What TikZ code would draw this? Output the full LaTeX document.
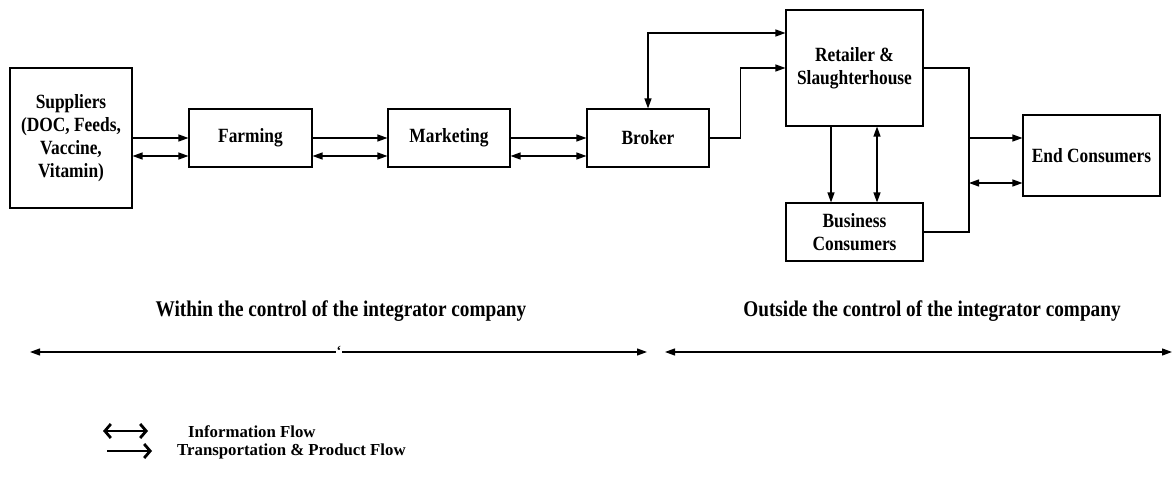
\documentclass[tikz,border=0pt]{standalone}
\usepackage{fontspec}
\setmainfont{Liberation Serif}
\newfontfamily\narrowserif[FakeStretch=0.86]{Liberation Serif}
\usetikzlibrary{arrows.meta}
\begin{document}
\begin{tikzpicture}[x=1pt,y=-1pt,
  tip/.tip={Triangle[length=10pt,width=7pt]},
  flow/.style={line width=1.2pt,-tip},
  info/.style={line width=1.2pt,tip-tip},
  wire/.style={line width=1.2pt},
  box/.style={draw,line width=1.1pt,align=center,inner sep=2pt,
    font=\narrowserif\bfseries\fontsize{20.2}{23}\selectfont},
  caption/.style={font=\narrowserif\bfseries\fontsize{22.4}{24}\selectfont},
  legendtext/.style={font=\bfseries\fontsize{16.8}{17}\selectfont,anchor=west,inner sep=0pt},
  barb/.tip={Straight Barb[length=6pt,width=14pt]},
  legendarrow/.style={line width=2.8pt}
]
\useasboundingbox (0,0) rectangle (1173,478);

% supply-chain actors
\node[box,minimum width=122pt,minimum height=140pt] (sup) at (71,138)
  {Suppliers\\(DOC, Feeds,\\Vaccine,\\Vitamin)};
\node[box,minimum width=123pt,minimum height=58pt] (farm) at (250.5,138) {Farming};
\node[box,minimum width=122pt,minimum height=58pt] (mkt) at (449,138) {Marketing};
\node[box,minimum width=122pt,minimum height=58pt] (brk) at (648,138) {Broker};
\node[box,minimum width=137pt,minimum height=116pt] (ret) at (854.5,68)
  {Retailer \&\\Slaughterhouse};
\node[box,minimum width=137pt,minimum height=58pt] (bus) at (854.5,232)
  {Business\\Consumers};
\node[box,minimum width=137pt,minimum height=81pt] (end) at (1091.5,155.5) {End Consumers};

% product and information links along the chain
\draw[flow] (sup.east) -- (farm.west);
\draw[info] ([yshift=-18pt]sup.east) -- ([yshift=-18pt]farm.west);
\draw[flow] (farm.east) -- (mkt.west);
\draw[info] ([yshift=-18pt]farm.east) -- ([yshift=-18pt]mkt.west);
\draw[flow] (mkt.east) -- (brk.west);
\draw[info] ([yshift=-18pt]mkt.east) -- ([yshift=-18pt]brk.west);

% broker to retailer
\draw[flow] (brk.east) -- ++(31,0) |- (ret.west);
\draw[info] (brk.north) |- ([yshift=35pt]ret.west);

% retailer and business consumers
\draw[flow] ([xshift=-23.5pt]ret.south) -- ([xshift=-23.5pt]bus.north);
\draw[info] ([xshift=22.5pt]ret.south) -- ([xshift=22.5pt]bus.north);

% merge towards end consumers
\coordinate (mergeTop) at (969,68);
\coordinate (mergeBot) at (969,232);
\draw[wire] (ret.east) -- (mergeTop) -- (mergeBot) -- (bus.east);
\coordinate (outA) at (969,138);
\coordinate (outB) at (969,183);
\draw[flow] (outA) -- (end.west |- outA);
\draw[info] (outB) -- (end.west |- outB);

% scope of control
\node[caption] (within) at (341,311) {Within the control of the integrator company};
\node[caption] (outside) at (932,311) {Outside the control of the integrator company};
\coordinate (wL) at (30,352);
\coordinate (wR) at (647,352);
\coordinate (oL) at (665,352);
\coordinate (oR) at (1172,352);
\draw[info] (wL) -- (wR);
\draw[info] (oL) -- (oR);
\node[fill=white,inner sep=0.6pt,font=\bfseries\fontsize{14}{14}\selectfont] (tick) at (339,351) {\symbol{96}};

% legend
\coordinate (l1a) at (103,431);
\coordinate (l1b) at (148,431);
\coordinate (l2a) at (107,451);
\coordinate (l2b) at (152,451);
\draw[legendarrow,barb-barb] (l1a) -- (l1b);
\draw[legendarrow,-barb] (l2a) -- (l2b);
\node[legendtext] (lg1) at (188,432) {Information Flow};
\node[legendtext] (lg2) at (177,451) {Transportation \& Product Flow};
\end{tikzpicture}
\end{document}
